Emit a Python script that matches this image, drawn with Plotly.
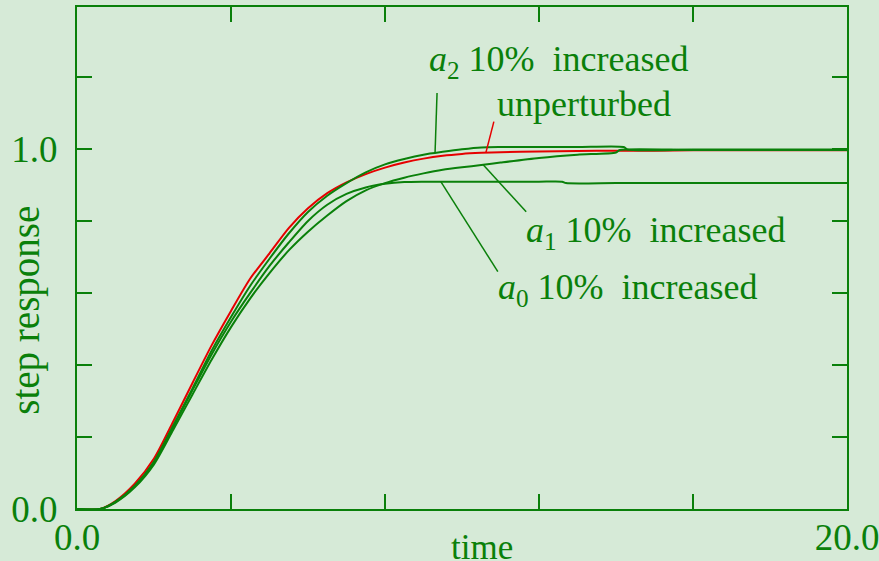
import numpy as np
import plotly.graph_objects as go

GREEN = "#0a800a"
RED = "#e60000"
BG = "#d6ead7"
FONT = "Liberation Serif"

# Step responses: nominal system and the three 10% coefficient perturbations
t_nom = [0, 0.6, 1.0, 1.5, 2.0, 2.5, 3.0, 3.5, 4.0, 4.5, 5.0, 5.5, 6.0, 6.5, 7.0,
         7.5, 8.0, 8.5, 9.0, 9.5, 10.0, 10.5, 11.0, 12.0, 13.0, 14.0, 15.0, 16.0, 18.0, 20.0]
y_nom = [0, 0.0, 0.022, 0.07, 0.14, 0.243, 0.35, 0.455, 0.55, 0.64, 0.71, 0.78, 0.835, 0.877, 0.907,
         0.93, 0.948, 0.962, 0.973, 0.981, 0.986, 0.989, 0.991, 0.993, 0.994, 0.995, 0.995, 0.996, 0.996, 0.996]

t_a2 = [0, 0.6, 1.0, 1.5, 2.0, 2.5, 3.0, 3.5, 4.0, 4.5, 5.0, 5.5, 6.0, 6.5, 7.0,
        7.5, 8.0, 8.5, 9.0, 9.5, 10.0, 10.5, 11.0, 12.0, 13.0, 14.2, 14.3, 16.0, 18.0, 20.0]
y_a2 = [0, 0.0, 0.02, 0.064, 0.132, 0.232, 0.335, 0.44, 0.533, 0.62, 0.695, 0.765, 0.825, 0.87, 0.905,
        0.935, 0.957, 0.972, 0.984, 0.992, 0.999, 1.004, 1.005, 1.005, 1.005, 1.005, 0.998, 0.998, 0.998, 0.998]

t_a1 = [0, 0.6, 1.0, 1.5, 2.0, 2.5, 3.0, 3.5, 4.0, 4.5, 5.0, 5.5, 6.0, 6.5, 7.0,
        7.5, 8.0, 8.5, 9.0, 9.5, 10.0, 10.5, 11.0, 12.0, 13.0, 14.0, 14.1, 16.0, 18.0, 20.0]
y_a1 = [0, 0.0, 0.018, 0.06, 0.124, 0.22, 0.318, 0.415, 0.505, 0.585, 0.655, 0.718, 0.77, 0.815, 0.855,
        0.885, 0.905, 0.92, 0.932, 0.942, 0.949, 0.955, 0.962, 0.975, 0.984, 0.99, 0.997, 0.997, 0.997, 0.997]

t_a0 = [0, 0.6, 1.0, 1.5, 2.0, 2.5, 3.0, 3.5, 4.0, 4.5, 5.0, 5.5, 6.0, 6.5, 7.0,
        7.5, 8.0, 8.5, 9.0, 10.0, 11.0, 12.0, 12.6, 12.7, 14.0, 16.0, 18.0, 20.0]
y_a0 = [0, 0.0, 0.02, 0.064, 0.13, 0.228, 0.33, 0.43, 0.52, 0.6, 0.675, 0.74, 0.8, 0.845, 0.875,
        0.893, 0.903, 0.908, 0.909, 0.909, 0.909, 0.909, 0.909, 0.905, 0.905, 0.905, 0.905, 0.905]

# Axis ticks and labels
x_ticks = [0, 4, 8, 12, 16, 20]
x_ticktext = ["0.0", "", "", "", "", "20.0"]
y_ticks = [0, 0.2, 0.4, 0.6, 0.8, 1.0, 1.2]
y_ticktext = ["0.0", "", "", "", "", "1.0", ""]

# Curve labels: text, series, time where the leader meets the curve,
# leader offset in pixels, text position (time, value)
labels = [
    ("<i>a</i><sub>2</sub> 10%  increased", t_a2, y_a2, 9.3, (2, 60), (9.08, 1.243)),
    ("unperturbed", t_nom, y_nom, 10.62, (8, 31), (10.87, 1.126)),
    ("<i>a</i><sub>1</sub> 10%  increased", t_a1, y_a1, 10.55, (43, -47), (11.6, 0.768)),
    ("<i>a</i><sub>0</sub> 10%  increased", t_a0, y_a0, 9.45, (57, -90), (10.88, 0.61)),
]
leader_colors = [GREEN, RED, GREEN, GREEN]

fig = go.Figure()

# nominal curve first so the perturbed curves are drawn over it
curve_line = dict(width=2, shape="spline", smoothing=0.7)
fig.add_trace(go.Scatter(x=t_nom, y=y_nom, mode="lines",
                         line=dict(color=RED, **curve_line)))
for tt, yy in [(t_a0, y_a0), (t_a1, y_a1), (t_a2, y_a2)]:
    fig.add_trace(go.Scatter(x=tt, y=yy, mode="lines",
                             line=dict(color=GREEN, **curve_line)))

shapes = []
annotations = []
for (text, ts, ys, ta, (dx, dy), (tx, ty)), col in zip(labels, leader_colors):
    va = float(np.interp(ta, ts, ys))
    shapes.append(dict(type="line", xref="x", yref="y",
                       xsizemode="pixel", ysizemode="pixel",
                       xanchor=ta, yanchor=va, x0=0, y0=0, x1=dx, y1=dy,
                       line=dict(color=col, width=1.5)))
    annotations.append(dict(x=tx, y=ty, xref="x", yref="y", text=text,
                            showarrow=False, xanchor="left", yanchor="middle",
                            font=dict(family=FONT, size=36, color=GREEN)))

# axis titles
annotations.append(dict(x=0.526, y=0, xref="paper", yref="paper", text="time",
                        showarrow=False, xanchor="center", yanchor="top",
                        yshift=-17, font=dict(family=FONT, size=35, color=GREEN)))
annotations.append(dict(x=0, y=0.395, xref="paper", yref="paper", text="step response",
                        showarrow=False, xanchor="center", yanchor="middle",
                        textangle=-90, xshift=-51,
                        font=dict(family=FONT, size=39, color=GREEN)))

fig.update_layout(
    width=879, height=561,
    margin=dict(l=77, r=32, t=7, b=52),
    paper_bgcolor=BG, plot_bgcolor=BG,
    showlegend=False,
    font=dict(family=FONT, size=36, color=GREEN),
    shapes=shapes, annotations=annotations,
)
axis_style = dict(ticks="inside", ticklen=15, tickwidth=2, tickcolor=GREEN,
                  showline=True, linecolor=GREEN, linewidth=2, mirror="ticks",
                  showgrid=False, zeroline=False, automargin=False,
                  ticklabeloverflow="allow",
                  tickfont=dict(family=FONT, size=37, color=GREEN))
fig.update_xaxes(range=[0, 20], tickvals=x_ticks, ticktext=x_ticktext,
                 ticklabelstandoff=-5, **axis_style)
fig.update_yaxes(range=[0, 1.394], tickvals=y_ticks, ticktext=y_ticktext,
                 ticklabelstandoff=10, **axis_style)

fig.write_html("out.html")
